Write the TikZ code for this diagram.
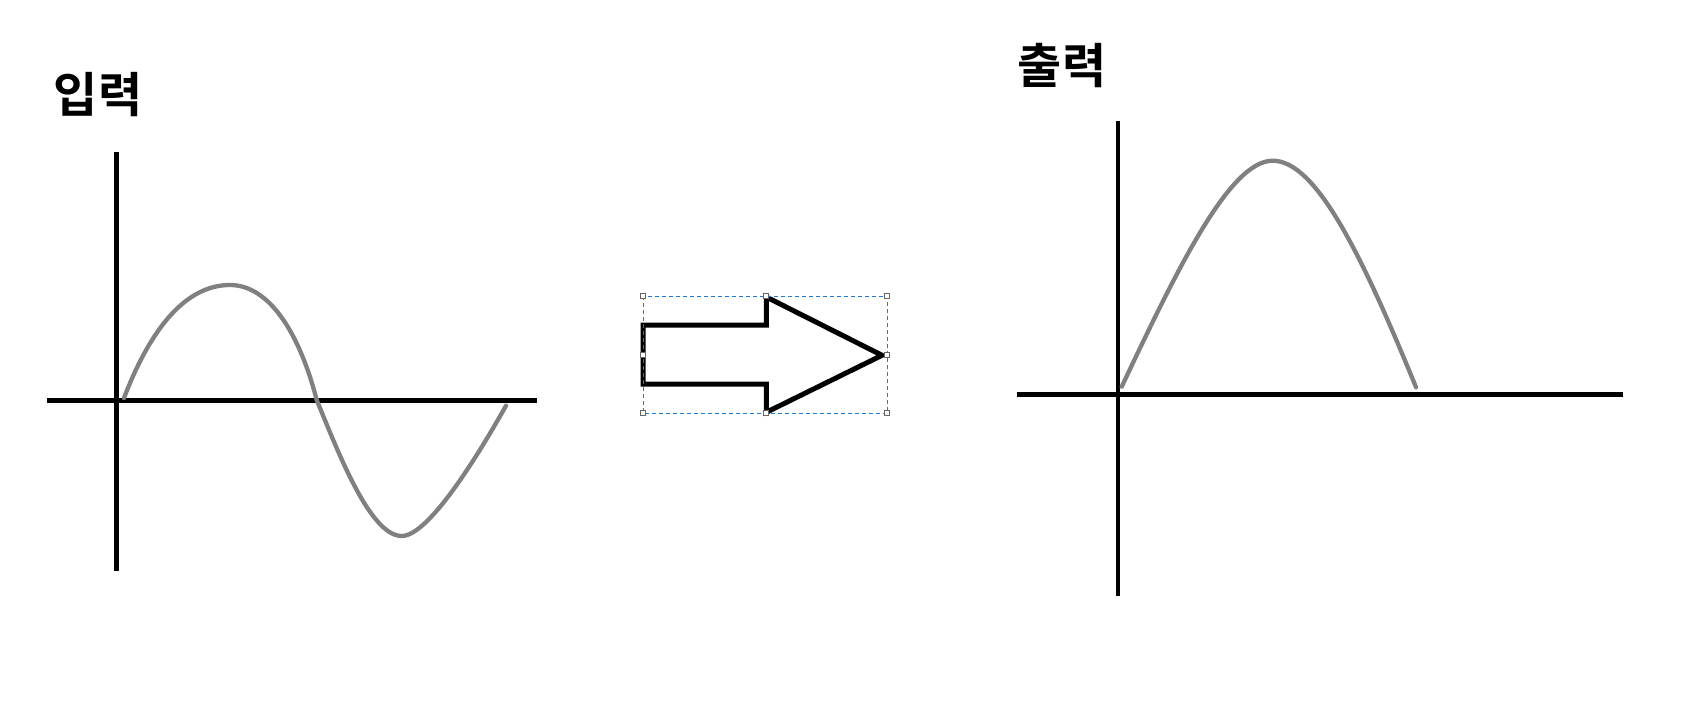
\documentclass[tikz,border=0pt]{standalone}
\usepackage{fontspec}
\newfontfamily\krfont{Noto Sans CJK KR}[BoldFont={Noto Sans CJK KR Bold}]
\begin{document}
\begin{tikzpicture}[x=1pt,y=-1pt,
  axisline/.style={line width=4.8pt,black},
  wave/.style={line width=4.3pt,color=gray,line cap=round,line join=round},
  arrowshape/.style={line width=5pt,black,line join=miter},
  selbox/.style={line width=1pt,color=selblue,dash pattern=on 4pt off 3pt},
  handle/.style={draw=darkgray,fill=white,line width=0.8pt,minimum size=5pt,inner sep=0pt,outer sep=0pt,rectangle},
  title/.style={font=\krfont\bfseries\fontsize{48}{54}\selectfont,inner sep=0pt}]
\definecolor{selblue}{HTML}{1E7BD8}
\definecolor{darkgray}{HTML}{666666}
\useasboundingbox (0,0) rectangle (1691,711);
% labels
\node[title] (inlabel) at (98,95) {입력};
\node[title] (outlabel) at (1062,66) {출력};
% left axes
\coordinate (lxa) at (47,400.5);
\coordinate (lxb) at (537.3,400.5);
\coordinate (lya) at (116.3,152.3);
\coordinate (lyb) at (116.3,571.3);
\draw[axisline] (lxa) -- (lxb);
\draw[axisline] (lya) -- (lyb);
% left sine
\coordinate (s0) at (124,398);
\coordinate (s1) at (230,285);
\coordinate (s2) at (316.7,400);
\coordinate (s3) at (401.7,536);
\coordinate (s4) at (506,405.7);
\draw[wave] (s0) .. controls (150,330) and (185,285) .. (s1)
  .. controls (270,285) and (300,335) .. (s2)
  .. controls (337.7,451) and (370,536) .. (s3)
  .. controls (430,536) and (482.8,446.9) .. (s4);
% arrow
\coordinate (a1) at (643,325);
\coordinate (a2) at (766.3,325);
\coordinate (a3) at (766.3,297);
\coordinate (a4) at (882,355.3);
\coordinate (a5) at (766.3,412.3);
\coordinate (a6) at (766.3,384);
\coordinate (a7) at (643,384);
\draw[arrowshape] (a1) -- (a2) -- (a3) -- (a4) -- (a5) -- (a6) -- (a7) -- cycle;
% selection box
\coordinate (b1) at (643,296);
\coordinate (b2) at (887.3,413.3);
\draw[selbox] (b1) rectangle (b2);
\node[handle] (h1) at (643,296) {};
\node[handle] (h2) at (766.3,296) {};
\node[handle] (h3) at (887.3,296) {};
\node[handle] (h4) at (643,355) {};
\node[handle] (h5) at (887.3,355) {};
\node[handle] (h6) at (643,413.3) {};
\node[handle] (h7) at (766.3,413.3) {};
\node[handle] (h8) at (887.3,413.3) {};
% right axes
\coordinate (rxa) at (1016.7,394.3);
\coordinate (rxb) at (1622.7,394.3);
\coordinate (rya) at (1118,120.7);
\coordinate (ryb) at (1118,595.7);
\draw[axisline] (rxa) -- (rxb);
\draw[axisline] (rya) -- (ryb);
% right half wave
\coordinate (r0) at (1121.7,386.7);
\coordinate (r1) at (1272.7,160.7);
\coordinate (r2) at (1416,387.3);
\draw[wave] (r0) .. controls (1178.3,266.7) and (1230,160.7) .. (r1)
  .. controls (1315,160.7) and (1360,250) .. (r2);
\end{tikzpicture}
\end{document}
